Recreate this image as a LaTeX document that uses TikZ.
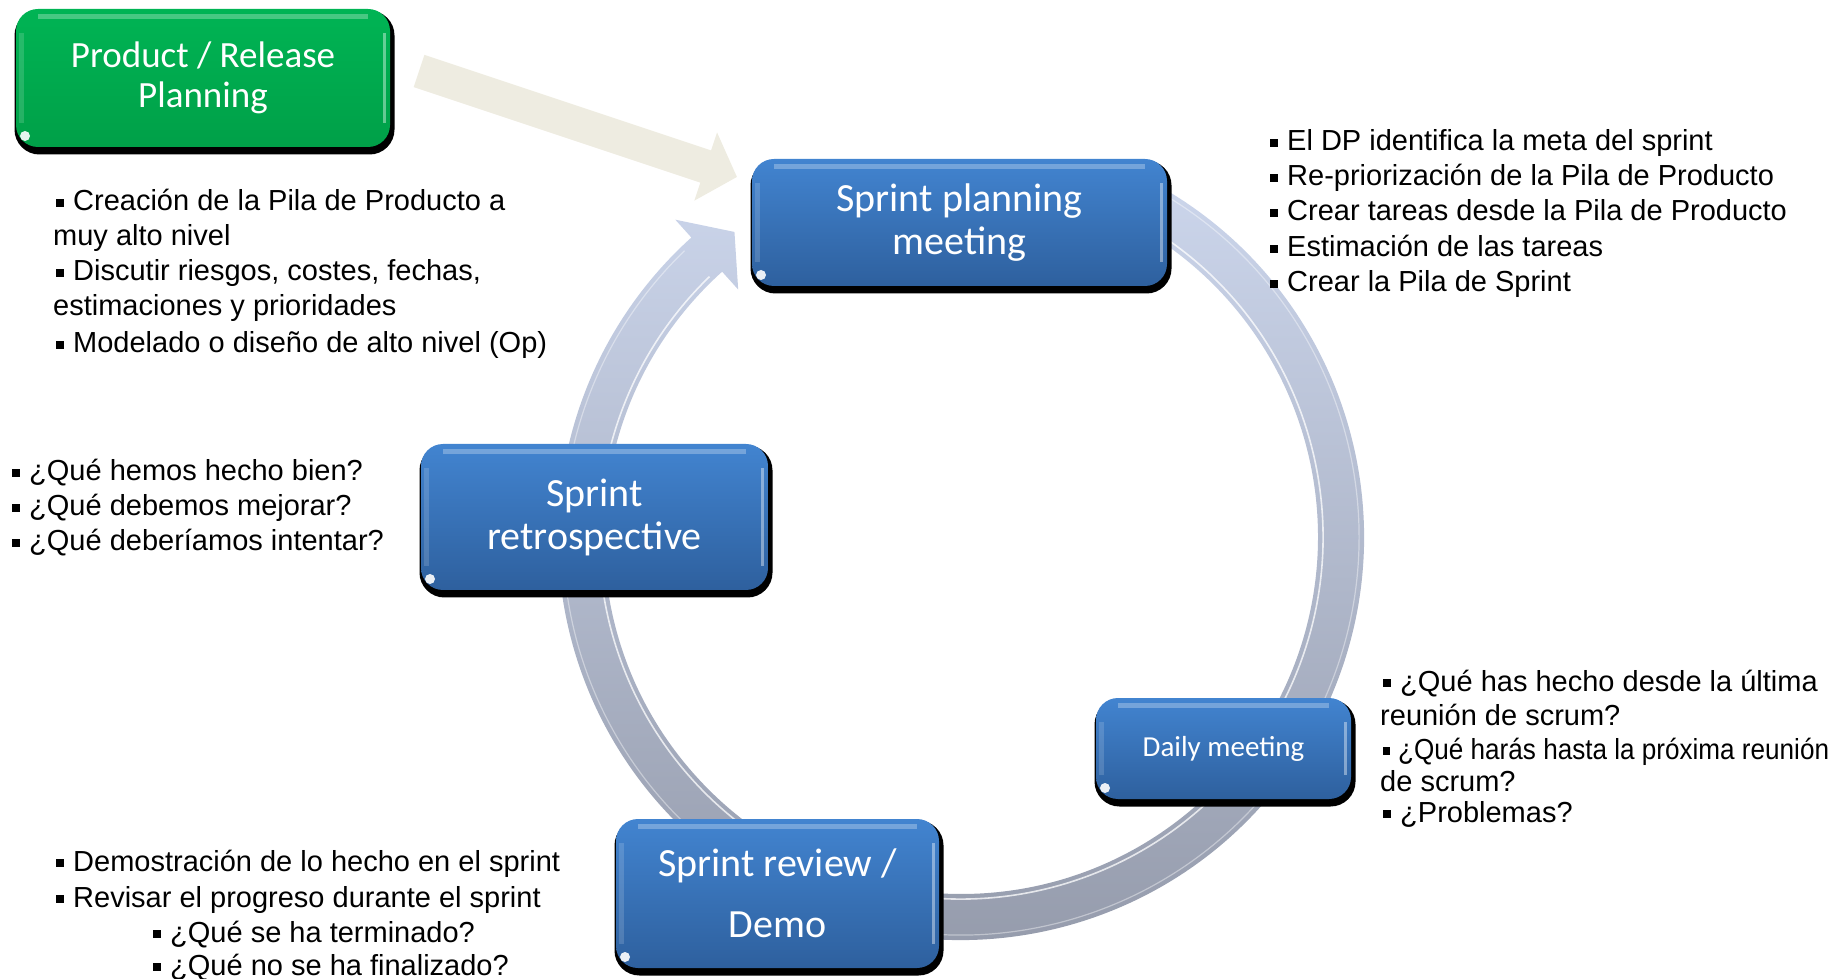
\documentclass[tikz,border=0pt]{standalone}
\usepackage{fontspec}
\setmainfont{Liberation Sans}
\newfontfamily\calib{Carlito}
\usepackage{graphicx}
\usetikzlibrary{calc,arrows.meta}
\definecolor{boxtop}{RGB}{66,132,208}
\definecolor{boxbot}{RGB}{46,96,158}
\definecolor{grtop}{RGB}{0,180,84}
\definecolor{grbot}{RGB}{0,160,72}
\definecolor{ringtop}{RGB}{204,214,236}
\definecolor{ringbot}{RGB}{146,152,168}
\definecolor{beigec}{RGB}{238,236,225}
\newcommand{\bul}{\hspace*{3pt}\rule[4pt]{8pt}{8pt}\hspace{9pt}}
\begin{document}
\begin{tikzpicture}[x=1pt,y=1pt,
  gloss/.style={rectangle, rounded corners=22pt, inner sep=0pt, text=white, align=center,
     preaction={fill=black, draw=black, line width=6pt, transform canvas={shift={(1.5pt,-4.5pt)}}},
     path picture={
       \fill[sharp corners,white,opacity=.28] ([xshift=22pt,yshift=-5pt]path picture bounding box.north west) rectangle ([xshift=-22pt,yshift=-10pt]path picture bounding box.north east);
       \fill[sharp corners,white,opacity=.15] ([xshift=3pt,yshift=-24pt]path picture bounding box.north west) rectangle ([xshift=8pt,yshift=24pt]path picture bounding box.south west);
       \fill[sharp corners,white,opacity=.4] ([xshift=-7pt,yshift=-24pt]path picture bounding box.north east) rectangle ([xshift=-4pt,yshift=24pt]path picture bounding box.south east);
       \fill[white,opacity=.9] ([xshift=9pt,yshift=11pt]path picture bounding box.south west) circle (5pt);
     }},
  bluebox/.style={gloss, top color=boxtop, bottom color=boxbot},
  greenbox/.style={gloss, top color=grtop, bottom color=grbot},
  boxfont/.style={font=\calib\fontsize{40pt}{43pt}\selectfont},
  bt/.style={anchor=base west, inner sep=0pt, font=\fontsize{29pt}{35pt}\selectfont, text=black},
  ringshade/.style={top color=ringtop, bottom color=ringbot},
  bevel/.style={white, line width=1.6pt},
  beigearrow/.style={beigec, line width=34pt, -{Triangle[width=70pt,length=33pt]}},
]
\useasboundingbox (0,0) rectangle (1841,978);

% circular arrow
\coordinate (c) at (961,441);
\shade[ringshade] ([shift={(c)}]65:403) arc[start angle=65,end angle=-228,radius=403]
  -- ([shift={(c)}]-228:427) -- ([shift={(c)}]-233.4:380) -- ([shift={(c)}]-228:333)
  -- ([shift={(c)}]-228:357) arc[start angle=-228,end angle=65,radius=357] -- cycle;
\draw[bevel,opacity=.75] ([shift={(c)}]65:362) arc[start angle=65,end angle=-226,radius=362];
\draw[bevel,opacity=.4,line width=1.2pt] ([shift={(c)}]65:398) arc[start angle=65,end angle=-226,radius=398];

% beige arrow
\coordinate (bs) at (419,907);
\coordinate (be) at (737,801);
\draw[beigearrow] (bs) -- (be);

% boxes
\node[greenbox, minimum width=374pt, minimum height=138pt, font=\calib\fontsize{37pt}{40pt}\selectfont] (prp) at (203,900) {Product / Release\\Planning};
\node[bluebox, boxfont, minimum width=415pt, minimum height=127pt] (spm) at (959.5,755.5) {Sprint planning\\meeting};
\node[bluebox, boxfont, minimum width=347pt, minimum height=146pt] (sr) at (594.5,461) {Sprint\\retrospective};
\node[bluebox, font=\calib\fontsize{29pt}{34pt}\selectfont, minimum width=255pt, minimum height=101pt] (dm) at (1223.5,229.5) {Daily meeting};
\node[bluebox, font=\calib\fontsize{40pt}{61pt}\selectfont, minimum width=323pt, minimum height=149pt] (srd) at (777.5,84.5) {Sprint review /\\Demo};

% product planning bullets
\node[bt] (a1) at (53,767) {\bul Creación de la Pila de Producto a};
\node[bt] (a2) at (53,732) {muy alto nivel};
\node[bt] (a3) at (53,697) {\bul Discutir riesgos, costes, fechas,};
\node[bt] (a4) at (53,662) {estimaciones y prioridades};
\node[bt] (a5) at (53,625) {\bul Modelado o diseño de alto nivel (Op)};

% sprint planning bullets
\node[bt] (b1) at (1267,827) {\bul El DP identifica la meta del sprint};
\node[bt] (b2) at (1267,792) {\bul Re-priorización de la Pila de Producto};
\node[bt] (b3) at (1267,757) {\bul Crear tareas desde la Pila de Producto};
\node[bt] (b4) at (1267,721) {\bul Estimación de las tareas};
\node[bt] (b5) at (1267,686) {\bul Crear la Pila de Sprint};

% retrospective bullets
\node[bt] (c1) at (9,497) {\bul ¿Qué hemos hecho bien?};
\node[bt] (c2) at (9,462) {\bul ¿Qué debemos mejorar?};
\node[bt] (c3) at (9,427) {\bul ¿Qué deberíamos intentar?};

% daily bullets
\node[bt] (d1) at (1380,287) {\bul ¿Qué has hecho desde la última};
\node[bt] (d2) at (1380,253) {reunión de scrum?};
\node[bt] (d3) at (1380,219) {\scalebox{0.9}[1]{\bul ¿Qué harás hasta la próxima reunión}};
\node[bt] (d4) at (1380,187) {de scrum?};
\node[bt] (d5) at (1380,156) {\bul ¿Problemas?};

% review bullets
\node[bt] (e1) at (53,107) {\bul Demostración de lo hecho en el sprint};
\node[bt] (e2) at (53,71) {\bul Revisar el progreso durante el sprint};
\node[bt] (e3) at (150,36) {\bul ¿Qué se ha terminado?};
\node[bt] (e4) at (150,3) {\bul ¿Qué no se ha finalizado?};
\end{tikzpicture}
\end{document}
